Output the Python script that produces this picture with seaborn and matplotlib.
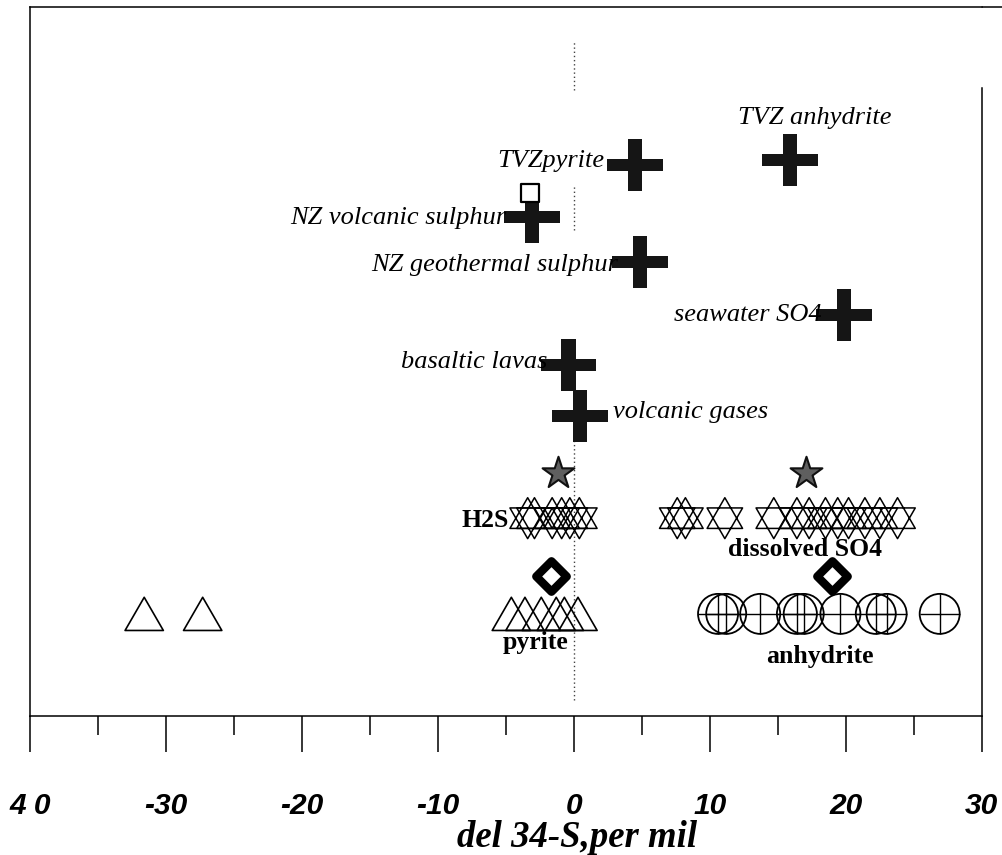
import numpy as np
import pandas as pd
import matplotlib
matplotlib.use("Agg")
import matplotlib.pyplot as plt
from matplotlib.path import Path
from matplotlib.lines import Line2D
import seaborn as sns

# ------------------------------------------------------------------ data
source_labels = ["TVZ anhydrite", "TVZpyrite", "NZ volcanic sulphur",
                 "NZ geothermal sulphur", "seawater SO4", "basaltic lavas",
                 "volcanic gases"]
source_d34s = [15.9, 4.5, -3.1, 4.85, 19.85, -0.4, 0.45]
source_row = [78.4, 77.7, 70.4, 64.0, 56.6, 49.5, 42.3]

square_d34s = [-3.2]
square_row = [73.8]

group_labels = ["H2S", "dissolved SO4", "pyrite", "anhydrite"]
star_d34s = [-1.2, 17.1]          # H2S mean, dissolved SO4 mean
star_row = [34.3, 34.3]

h2s_d34s = [-3.4, -2.9, -1.6, -0.9, -0.3, 0.4]
so4_d34s = [7.6, 8.2, 11.1, 14.7, 16.4, 17.3, 18.5, 19.4, 20.2, 21.4, 22.5, 23.8]
hexagram_row = 27.9

diamond_d34s = [-1.7, 19.0]       # pyrite mean, anhydrite mean
diamond_row = [19.7, 19.7]

pyrite_d34s = [-31.6, -27.3, -4.6, -3.6, -2.4, -1.3, -0.7, 0.3]
anhydrite_d34s = [10.6, 11.2, 13.7, 16.4, 16.9, 19.6, 22.2, 23.0, 26.9]
mineral_row = 14.4

xtick_values = [-40, -30, -20, -10, 0, 10, 20, 30]
xtick_labels = ["4 0", "-30", "-20", "-10", "0", "10", "20", "30"]
xminor_values = [-35, -25, -15, -5, 5, 15, 25]
x_title = "del 34-S,per mil"

# ------------------------------------------------------------------ markers
def closed(verts):
    codes = [Path.MOVETO] + [Path.LINETO] * (len(verts) - 1) + [Path.CLOSEPOLY]
    return Path(list(verts) + [verts[0]], codes)

tv, th, vy = 0.13, 0.11, 0.47
cross_marker = closed([(-tv, vy), (tv, vy), (tv, th), (0.5, th), (0.5, -th),
                       (tv, -th), (tv, -vy), (-tv, -vy), (-tv, -th),
                       (-0.5, -th), (-0.5, th), (-tv, th)])
up = [(0, 1), (-0.866, -0.5), (0.866, -0.5)]
dn = [(0, -1), (-0.866, 0.5), (0.866, 0.5)]
hexa_verts = up + [up[0]] + dn + [dn[0]]
hexa_codes = ([Path.MOVETO, Path.LINETO, Path.LINETO, Path.CLOSEPOLY] * 2)
hexagram_marker = Path(hexa_verts, hexa_codes)
triangle_marker = closed([(-0.5, -0.433), (0.5, -0.433), (0, 0.433)])
diamond_marker = closed([(0, 0.5), (0.5, 0), (0, -0.5), (-0.5, 0)])

# ------------------------------------------------------------------ figure
sns.set_theme(style="white")
plt.rcParams["font.family"] = ["Liberation Serif", "DejaVu Serif"]
plt.rcParams["text.color"] = "black"
plt.rcParams["axes.labelcolor"] = "black"
plt.rcParams["xtick.color"] = "black"

fig = plt.figure(figsize=(10.03, 8.55), dpi=100)
ax = fig.add_axes([0.0299, 0.1626, 0.949, 0.8292])
ax.set_xlim(-40, 30)
ax.set_ylim(0, 100)

# dotted zero line (broken as in the scan)
for y0, y1 in [(0.883, 0.953), (0.685, 0.749), (0.023, 0.474)]:
    ax.axvline(0, ymin=y0, ymax=y1, color="#444444", ls=(0, (1, 2)), lw=1.0, zorder=0)

# source crosses
src = pd.DataFrame({"d34s": source_d34s, "row": source_row, "label": source_labels})
sns.scatterplot(data=src, x="d34s", y="row", marker=cross_marker, s=1600,
                color="#151515", edgecolor="none", ax=ax, zorder=3)
sns.scatterplot(x=square_d34s, y=square_row, marker="s", s=150,
                facecolor="white", edgecolor="black", linewidth=1.6, ax=ax, zorder=3)

label_offsets = [(18, 30, "center"), (-22, 3, "right"), (-18, -1, "right"),
                 (-16, -2, "right"), (-16, 0, "right"), (-15, 2, "right"),
                 (24, 3, "left")]
for (lbl, x, y), (dx, dy, ha) in zip(zip(source_labels, source_d34s, source_row), label_offsets):
    ax.annotate(lbl, (x, y), xytext=(dx, dy), textcoords="offset points",
                ha=ha, va="center", fontsize=19, style="italic", color="black",
                zorder=4)

# fluids: stars (means) and hexagrams
sns.scatterplot(x=star_d34s, y=star_row, marker="*", s=580,
                facecolor="#5f5f5f", edgecolor="#111111", linewidth=1.5, ax=ax, zorder=3)
hex_df = pd.DataFrame({"d34s": h2s_d34s + so4_d34s,
                       "row": [hexagram_row] * (len(h2s_d34s) + len(so4_d34s))})
sns.scatterplot(data=hex_df, x="d34s", y="row", marker=hexagram_marker, s=870,
                facecolor="none", edgecolor="black", linewidth=1.1, ax=ax, zorder=3)

# minerals: diamonds (means), triangles, crossed circles
sns.scatterplot(x=diamond_d34s, y=diamond_row, marker=diamond_marker, s=480,
                facecolor="white", edgecolor="black", linewidth=6, ax=ax, zorder=3)
sns.scatterplot(x=pyrite_d34s, y=[mineral_row] * len(pyrite_d34s),
                marker=triangle_marker, s=760, facecolor="none",
                edgecolor="black", linewidth=1.2, ax=ax, zorder=3)
anh_y = [mineral_row] * len(anhydrite_d34s)
sns.scatterplot(x=anhydrite_d34s, y=anh_y, marker="o", s=830, facecolor="none",
                edgecolor="black", linewidth=1.3, ax=ax, zorder=3)
sns.scatterplot(x=anhydrite_d34s, y=anh_y, marker="+", s=830, color="black",
                linewidth=1.0, ax=ax, zorder=3)

group_offsets = [(-35, -34, "right"), (-1, -55, "center"),
                 (-11, -48, "center"), (-9, -58, "center")]
group_anchor = [(star_d34s[0], star_row[0]), (star_d34s[1], star_row[1]),
                (diamond_d34s[0], diamond_row[0]), (diamond_d34s[1], diamond_row[1])]
for lbl, (x, y), (dx, dy, ha) in zip(group_labels, group_anchor, group_offsets):
    ax.annotate(lbl, (x, y), xytext=(dx, dy), textcoords="offset points",
                ha=ha, va="center", fontsize=18.5, fontweight="bold", color="black",
                zorder=4)

# ------------------------------------------------------------------ axes styling
ax.set_yticks([])
ax.set_ylabel("")
ax.set_xticks(xtick_values)
ax.set_xticks(xminor_values, minor=True)
ax.set_xticklabels(xtick_labels, fontsize=21.5, fontweight="bold", style="italic",
                   color="black",
                   family=["Liberation Sans Narrow", "Liberation Sans"])
ax.tick_params(axis="x", which="major", direction="out", length=26, width=1.1,
               pad=29, color="black", bottom=True)
ax.tick_params(axis="x", which="minor", direction="out", length=14, width=1.1,
               color="black", bottom=True)
ax.set_xlabel(x_title, fontsize=26.5, fontweight="bold", style="italic",
              color="black", va="center")
ax.xaxis.set_label_coords(0.575, -0.171)

for side in ["left", "top", "bottom", "right"]:
    ax.spines[side].set_visible(True)
    ax.spines[side].set_color("black")
    ax.spines[side].set_linewidth(1.1)
ax.spines["right"].set_bounds(0, 88.6)
ax.grid(False)

pos = ax.get_position()
fig.add_artist(Line2D([pos.x1, 1.0], [pos.y1, pos.y1], transform=fig.transFigure,
                      color="black", lw=1.1))

fig.savefig("out.png", dpi=100, facecolor="white")
